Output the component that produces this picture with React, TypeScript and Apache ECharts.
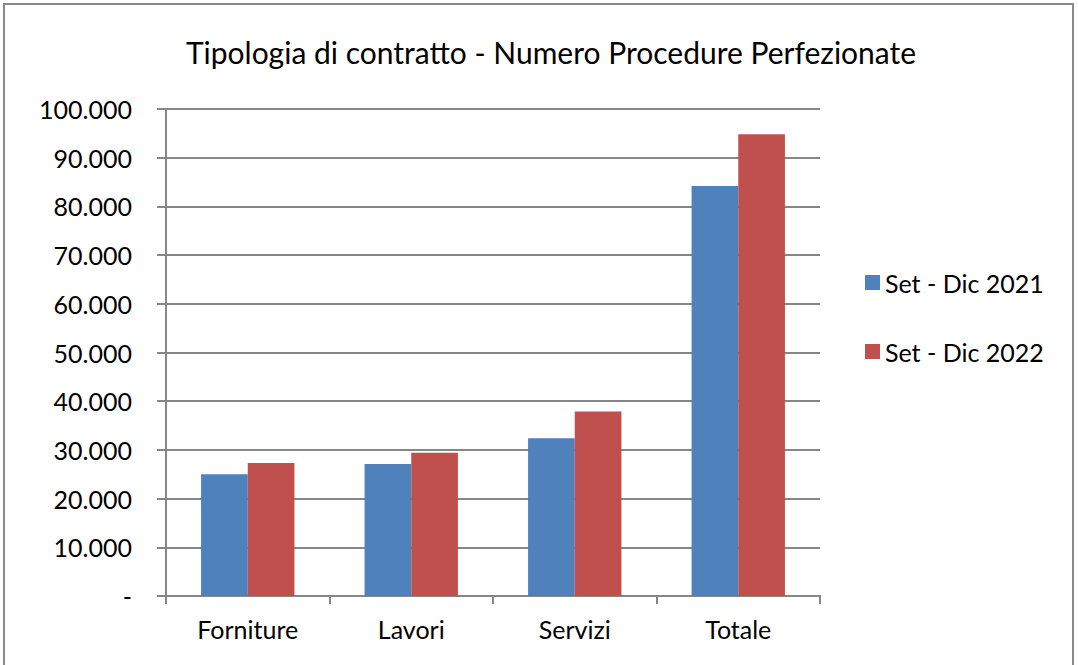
import React, { useEffect, useRef } from "react";
import * as echarts from "echarts";

const categories = ["Forniture", "Lavori", "Servizi", "Totale"];
const seriesNames = ["Set - Dic 2021", "Set - Dic 2022"];
const values2021 = [25000, 27100, 32400, 84200];
const values2022 = [27300, 29400, 37900, 94800];
const colors = ["#4F81BD", "#C0504D"];

const FONT = "Lato, 'Liberation Sans', sans-serif";

function fmt(v: number): string {
  if (v === 0) return "-";
  return String(v).replace(/\B(?=(\d{3})+(?!\d))/g, ".");
}

export default function App() {
  const ref = useRef<HTMLDivElement>(null);
  useEffect(() => {
    if (!ref.current) return;
    const chart = echarts.init(ref.current, undefined, { renderer: "svg" });
    chart.setOption({
      animation: false,
      backgroundColor: "#ffffff",
      title: {
        text: "Tipologia di contratto - Numero Procedure Perfezionate",
        left: 546,
        textAlign: "center",
        top: 32,
        textStyle: { fontFamily: FONT, fontSize: 30, fontWeight: "normal", color: "#000" },
      },
      graphic: [
        {
          type: "rect",
          shape: { x: 4, y: 4, width: 1069, height: 680 },
          style: { fill: "none", stroke: "#8a8a8a", lineWidth: 2 },
          silent: true,
        },
      ],
      legend: {
        orient: "vertical",
        left: 860,
        top: 265,
        itemGap: 44,
        itemWidth: 15,
        itemHeight: 15,
        icon: "rect",
        data: seriesNames,
        textStyle: { fontFamily: FONT, fontSize: 25, color: "#000" },
      },
      grid: { left: 166, right: 258, top: 109, bottom: 69, containLabel: false },
      xAxis: {
        type: "category",
        data: categories,
        axisLine: { lineStyle: { color: "#868686", width: 2 } },
        axisTick: { show: true, length: 8, lineStyle: { color: "#868686", width: 2 } },
        axisLabel: { fontFamily: FONT, fontSize: 25, color: "#000", margin: 20 },
      },
      yAxis: {
        type: "value",
        min: 0,
        max: 100000,
        interval: 10000,
        axisLine: { show: true, lineStyle: { color: "#868686", width: 2 } },
        axisTick: { show: true, length: 9, lineStyle: { color: "#868686", width: 2 } },
        splitLine: { show: true, lineStyle: { color: "#868686", width: 2 } },
        axisLabel: {
          fontFamily: FONT,
          fontSize: 25,
          color: "#000",
          margin: 34,
          formatter: (v: number) => fmt(v),
        },
      },
      series: [
        {
          name: seriesNames[0],
          type: "bar",
          data: values2021,
          itemStyle: { color: colors[0] },
          barGap: "0%",
          barCategoryGap: "42.9%",
        },
        {
          name: seriesNames[1],
          type: "bar",
          data: values2022,
          itemStyle: { color: colors[1] },
          barGap: "0%",
          barCategoryGap: "42.9%",
        },
      ],
    });
    return () => chart.dispose();
  }, []);
  return (
    <div
      ref={ref}
      style={{ position: "absolute", left: 0, top: 0, width: 1078, height: 665 }}
    />
  );
}
